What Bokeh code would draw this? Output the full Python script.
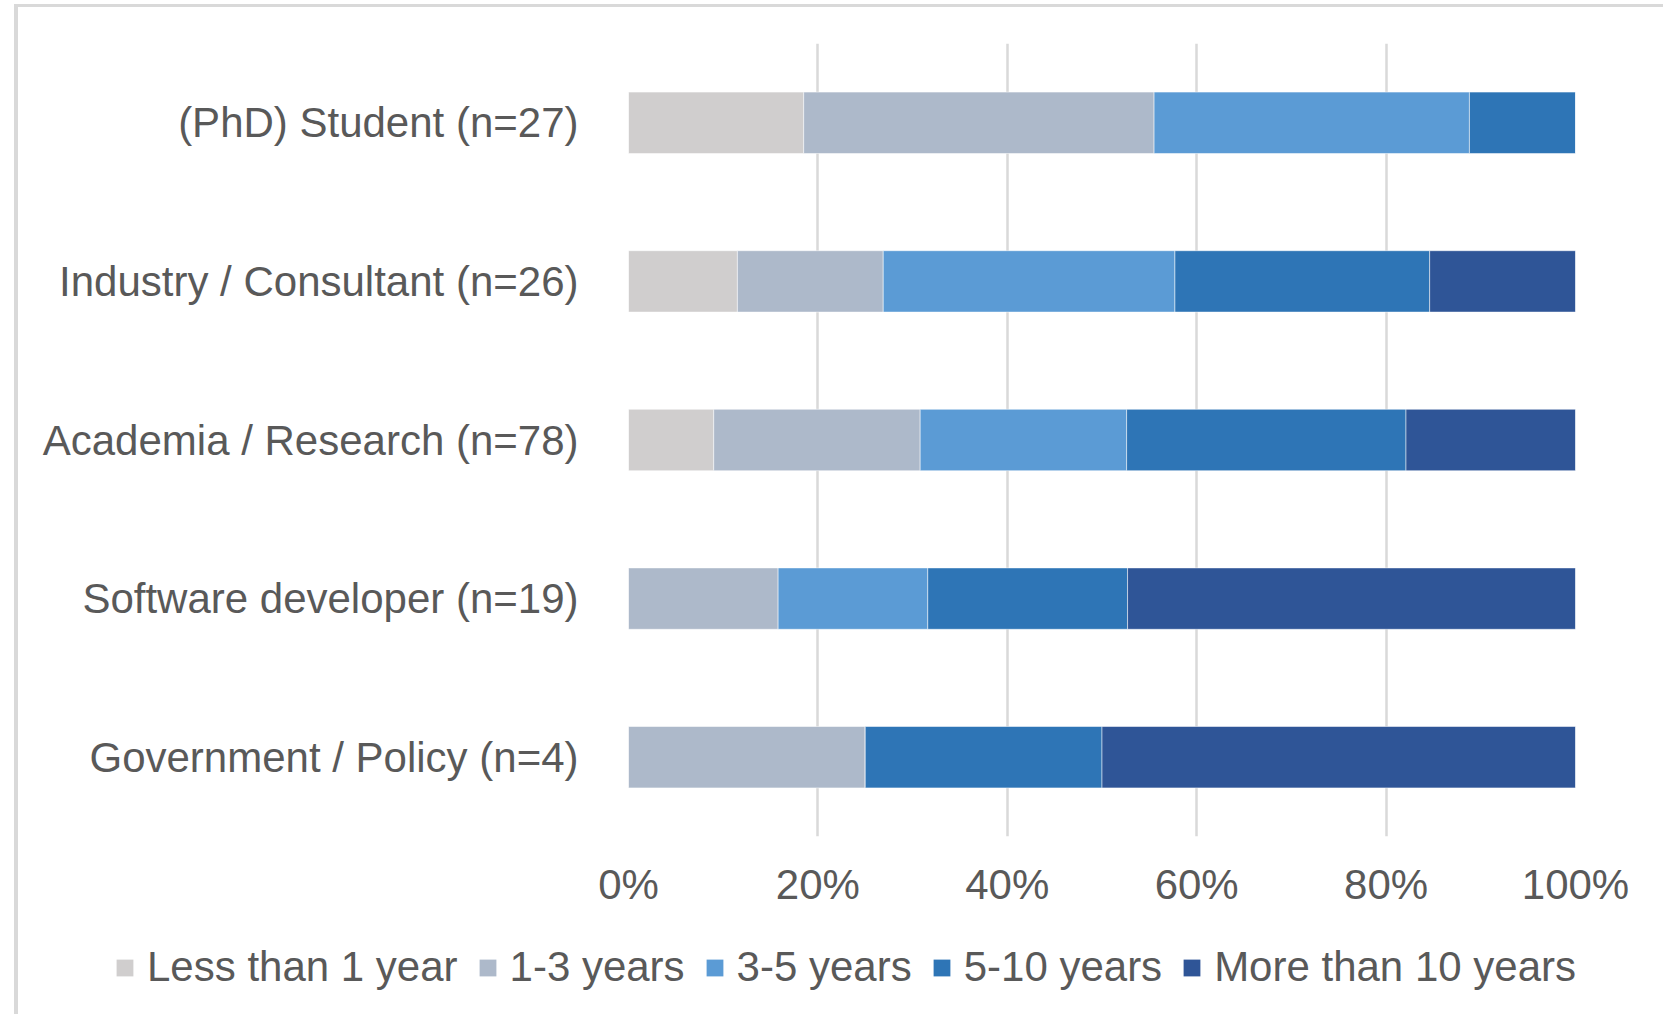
from bokeh.plotting import figure
from bokeh.layouts import column
from bokeh.models import (FactorRange, Range1d, PrintfTickFormatter, Legend, LegendItem, FixedTicker)
from bokeh.embed import file_html
from bokeh.resources import INLINE

# ---- data (percent of respondents per group) ----
categories = ["(PhD) Student (n=27)", "Industry / Consultant (n=26)", "Academia / Research (n=78)",
              "Software developer (n=19)", "Government / Policy (n=4)"]
series = ["Less than 1 year", "1-3 years", "3-5 years", "5-10 years", "More than 10 years"]
less_than_1 = [18.5, 11.5, 9.0, 0.0, 0.0]
years_1_3 = [37.0, 15.4, 21.8, 15.8, 25.0]
years_3_5 = [33.3, 30.8, 21.8, 15.8, 0.0]
years_5_10 = [11.2, 26.9, 29.5, 21.1, 25.0]
more_than_10 = [0.0, 15.4, 17.9, 47.3, 50.0]
x_ticks = [0, 20, 40, 60, 80, 100]

colors = ["#D0CECE", "#ADB9CA", "#5B9BD5", "#2E75B6", "#2F5597"]
FONT = "Liberation Sans"
TXT = "#595959"
BORDER = "#D9D9D9"

data = dict(cat=categories)
for name, vals in zip(series, [less_than_1, years_1_3, years_3_5, years_5_10, more_than_10]):
    data[name] = vals

# canvas starts at page (18, 7) because of the border/margin styles of the layout
W = 1645
H1 = 929
p = figure(width=W, height=H1, output_backend="svg", toolbar_location=None,
           y_range=FactorRange(factors=categories[::-1]), x_range=Range1d(0, 100),
           min_border_left=610, min_border_right=W - 610 - 947, min_border_top=36,
           min_border_bottom=H1 - 36 - 793)
p.outline_line_color = None
p.background_fill_color = "white"
p.border_fill_color = "white"

rs = p.hbar_stack(series, y="cat", height=0.387, color=colors, source=data,
                  line_color="white", line_width=1, line_alpha=0.5)

p.xgrid.grid_line_color = BORDER
p.xgrid.grid_line_width = 2.5
p.ygrid.grid_line_color = None

p.xaxis.ticker = FixedTicker(ticks=x_ticks)
p.xaxis.formatter = PrintfTickFormatter(format="%d%%")
for ax in (p.xaxis[0], p.yaxis[0]):
    ax.axis_line_color = None
    ax.major_tick_line_color = None
    ax.minor_tick_line_color = None
    ax.major_tick_out = 0
    ax.major_tick_in = 0
    ax.major_label_text_font = FONT
    ax.major_label_text_font_size = "42px"
    ax.major_label_text_color = TXT
p.xaxis.major_label_standoff = 24
p.yaxis.major_label_standoff = 50

# ---- legend strip below the chart (own canvas so the legend is not clipped) ----
# the same series are attached here with zero height and no outline, only to feed the legend swatches
H2 = 78
lf = figure(width=W, height=H2, output_backend="svg", toolbar_location=None,
            x_range=Range1d(1000, 1001), y_range=FactorRange(factors=categories[::-1]),
            x_axis_type=None, y_axis_type=None,
            min_border=0, min_border_left=0, min_border_right=0, min_border_top=0, min_border_bottom=0)
lf.outline_line_color = None
lf.grid.visible = False
swatches = lf.hbar_stack(series, y="cat", height=0, fill_color=colors, line_alpha=0, source=data)

legend = Legend(items=[LegendItem(label=s, renderers=[r]) for s, r in zip(series, swatches)],
                orientation="horizontal", location=(96, 23),
                glyph_width=21, glyph_height=21, label_standoff=12, spacing=19,
                padding=0, margin=0, border_line_color=None, background_fill_alpha=0,
                label_text_font=FONT, label_text_font_size="42px", label_text_color=TXT)
lf.add_layout(legend, "center")

layout = column(p, column(lf), spacing=0,
                styles={"margin-left": "14px", "margin-top": "4px",
                        "border-left": f"4px solid {BORDER}", "border-top": f"3px solid {BORDER}"})
open("out.html", "w").write(file_html(layout, INLINE))
